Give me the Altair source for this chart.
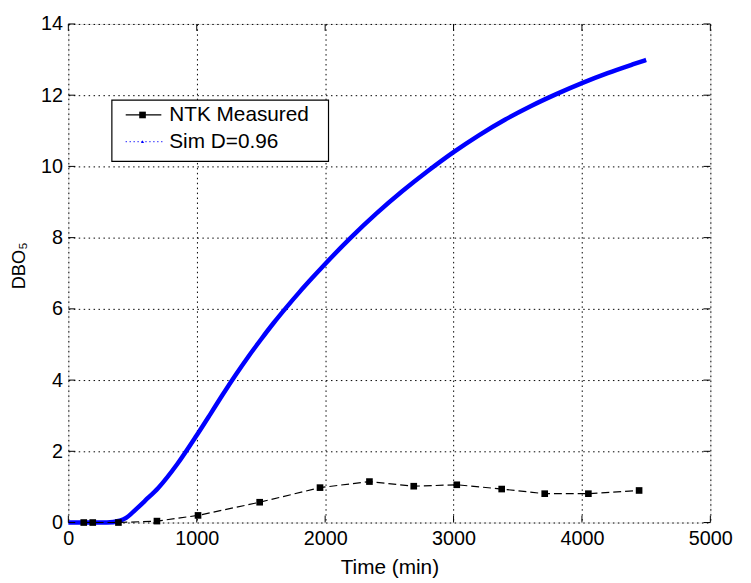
import altair as alt
import pandas as pd

# ---- data ----
sim_x = [0, 300, 400, 450, 520, 600, 700, 850, 1000, 1100, 1200, 1300, 1400, 1500, 1600, 1700, 1800,
         1900, 2000, 2200, 2400, 2600, 2800, 3000, 3200, 3400, 3600, 3800, 4000, 4200, 4400, 4500]
sim_y = [0, 0, 0.05, 0.13, 0.35, 0.62, 0.97, 1.65, 2.45, 3.01, 3.58, 4.13, 4.65, 5.14, 5.61, 6.05, 6.47,
         6.87, 7.26, 8.0, 8.68, 9.30, 9.87, 10.4, 10.88, 11.31, 11.69, 12.03, 12.34, 12.62, 12.87, 12.99]

meas_x = [120, 190, 390, 690, 1010, 1490, 1960, 2345, 2690, 3025, 3375, 3710, 4050, 4445]
meas_y = [0.0, 0.0, 0.0, 0.04, 0.2, 0.57, 0.98, 1.15, 1.02, 1.06, 0.94, 0.81, 0.81, 0.90]

x_ticks = [0, 1000, 2000, 3000, 4000, 5000]
y_ticks = [0, 2, 4, 6, 8, 10, 12, 14]

series_names = ["NTK Measured", "Sim D=0.96"]

W, H = 649, 504
FONT = "Liberation Sans"

sim_df = pd.DataFrame({"t": sim_x, "v": sim_y})
meas_df = pd.DataFrame({"t": meas_x, "v": meas_y})
xt_df = pd.DataFrame({"t": x_ticks})
yt_df = pd.DataFrame({"v": y_ticks})
one = pd.DataFrame({"a": [0]})

xs = alt.Scale(domain=[0, 5000], nice=False)
ys = alt.Scale(domain=[0, 14], nice=False)

x_axis = alt.Axis(values=x_ticks, title="Time (min)", grid=True, gridDash=[1.5, 3.5],
                  gridColor="black", gridOpacity=1, gridWidth=1, ticks=False, domain=False,
                  labelFlush=False, labelPadding=6, labelFontSize=20, titleFontSize=21,
                  labelFont=FONT, titleFont=FONT, labelColor="black", titleColor="black",
                  titleFontWeight="normal", titleY=46, titleBaseline="middle", format="d")
y_axis = alt.Axis(values=y_ticks, title="DBO\u2085", grid=True, gridDash=[1.5, 3.5],
                  gridColor="black", gridOpacity=1, gridWidth=1, ticks=False, domain=False,
                  labelFlush=False, labelPadding=6, labelFontSize=20, titleFontSize=18.5,
                  labelFont=FONT, titleFont=FONT, labelColor="black", titleColor="black",
                  titleFontWeight="normal", titleX=-50, titleY=H / 2 - 8, titleAngle=270,
                  titleAlign="center", titleBaseline="middle", labelBaseline="middle")

X = alt.X("t:Q", scale=xs, axis=x_axis)
Y = alt.Y("v:Q", scale=ys, axis=y_axis)

sim = alt.Chart(sim_df).mark_line(color="#0000ff", strokeWidth=4.5, interpolate="monotone").encode(x=X, y=Y)
meas_line = alt.Chart(meas_df).mark_line(color="black", strokeWidth=1.2, strokeDash=[8, 4]).encode(x=X, y=Y)
meas_pts = alt.Chart(meas_df).mark_point(shape="square", filled=True, color="black", size=45, opacity=1).encode(x=X, y=Y)

tick_len = 7
xt_bot = alt.Chart(xt_df).mark_rule(color="black", strokeWidth=1).encode(x=X, y=alt.value(H), y2=alt.value(H - tick_len))
xt_top = alt.Chart(xt_df).mark_rule(color="black", strokeWidth=1).encode(x=X, y=alt.value(0), y2=alt.value(tick_len))
yt_left = alt.Chart(yt_df).mark_rule(color="black", strokeWidth=1).encode(y=Y, x=alt.value(0), x2=alt.value(tick_len))
yt_right = alt.Chart(yt_df).mark_rule(color="black", strokeWidth=1).encode(y=Y, x=alt.value(W), x2=alt.value(W - tick_len))

# ---- legend ----
lx0, lx1, ly0, ly1 = 44, 263, 77, 139
row1, row2 = 92, 119
mk_x = 75
txt_x = 102
box = alt.Chart(one).mark_rect(fill="white", stroke="black", strokeWidth=1.2).encode(
    x=alt.value(lx0), x2=alt.value(lx1), y=alt.value(ly0), y2=alt.value(ly1))
leg_l1 = alt.Chart(one).mark_rule(color="black", strokeWidth=1.2).encode(
    x=alt.value(58), x2=alt.value(94), y=alt.value(row1))
leg_p1 = alt.Chart(one).mark_point(shape="square", filled=True, color="black", size=45, opacity=1).encode(
    x=alt.value(mk_x), y=alt.value(row1))
leg_t1 = alt.Chart(one).mark_text(align="left", baseline="middle", font=FONT, fontSize=21, color="black").encode(
    x=alt.value(txt_x), y=alt.value(row1), text=alt.value(series_names[0]))
leg_l2 = alt.Chart(one).mark_rule(color="#0000ff", strokeWidth=1.2, strokeDash=[1, 3]).encode(
    x=alt.value(58), x2=alt.value(98), y=alt.value(row2))
leg_p2 = alt.Chart(one).mark_point(shape="triangle-up", filled=True, color="#0000ff", size=10, opacity=1).encode(
    x=alt.value(mk_x), y=alt.value(row2))
leg_t2 = alt.Chart(one).mark_text(align="left", baseline="middle", font=FONT, fontSize=21, color="black").encode(
    x=alt.value(txt_x), y=alt.value(row2), text=alt.value(series_names[1]))

chart = alt.layer(
    sim, meas_line, meas_pts, xt_bot, xt_top, yt_left, yt_right,
    box, leg_l1, leg_p1, leg_t1, leg_l2, leg_p2, leg_t2
).properties(
    width=W, height=H,
    autosize=alt.AutoSizeParams(type="none"),
    padding={"left": 61, "top": 13, "right": 33, "bottom": 58},
).configure_view(stroke="black", strokeWidth=1.4).configure(background="white")

chart.save("out.html", embed_options={"renderer": "svg", "actions": False})
